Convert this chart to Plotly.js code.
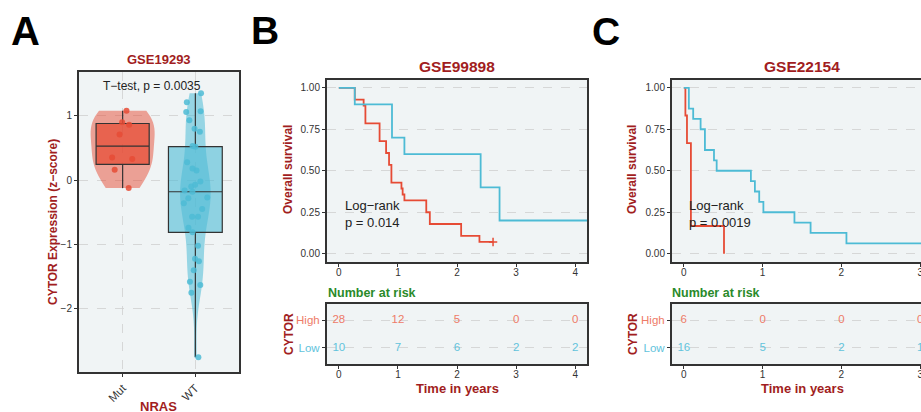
<!DOCTYPE html>
<html><head><meta charset="utf-8">
<script src="https://cdn.plot.ly/plotly-3.0.1.min.js"></script>
<style>html,body{margin:0;padding:0;overflow:hidden;background:#fff}</style>
</head><body><div id="chart" style="width:940px;height:412px"></div>
<script>
// ---------- Panel A data (GSE19293, CYTOR z-score by NRAS status) ----------
const groupsA = ['Mut', 'WT'];
const mutValues = [1.08, 0.90, 0.86, 0.71, 0.33, 0.35, 0.16, -0.12];
const wtValues = [1.35, 1.21, 1.07, 1.06, 0.93, 0.80, 0.75, 0.53, 0.52, 0.28, 0.18, 0.15,
  -0.02, -0.07, -0.10, -0.16, -0.18, -0.27, -0.28, -0.36, -0.45, -0.57, -0.57, -0.74,
  -0.81, -1.02, -1.22, -1.26, -1.40, -1.58, -1.63, -1.75, -2.75];

// ---------- Panel B data (GSE99898) ----------
const bHighTime = [0, 0.27, 0.42, 0.45, 0.69, 0.80, 0.85, 0.89, 1.06, 1.08, 1.11, 1.48, 1.54, 2.07, 2.38, 2.61];
const bHighSurv = [1, 0.929, 0.893, 0.786, 0.679, 0.607, 0.536, 0.429, 0.393, 0.357, 0.321, 0.25, 0.179, 0.107, 0.071, 0.071];
const bHighCensorTime = [2.61];
const bHighCensorSurv = [0.071];
const bLowTime = [0, 0.27, 0.90, 1.11, 2.40, 2.72, 4.6];
const bLowSurv = [1, 0.9, 0.7, 0.6, 0.4, 0.2, 0.2];
const bRiskTimes = [0, 1, 2, 3, 4];
const bRiskHigh = [28, 12, 5, 0, 0];
const bRiskLow = [10, 7, 6, 2, 2];

// ---------- Panel C data (GSE22154) ----------
const cHighTime = [0, 0.02, 0.04, 0.09, 0.51];
const cHighSurv = [1, 0.833, 0.667, 0.167, 0];
const cLowTime = [0, 0.064, 0.119, 0.213, 0.268, 0.383, 0.417, 0.851, 0.902, 0.957, 1.01, 1.404, 1.609, 2.064, 3.6];
const cLowSurv = [1, 0.875, 0.8125, 0.75, 0.625, 0.5625, 0.5, 0.4375, 0.375, 0.3125, 0.25, 0.1875, 0.125, 0.0625, 0.0625];
const cRiskTimes = [0, 1, 2, 3];
const cRiskHigh = [6, 0, 0, 0];
const cRiskLow = [16, 5, 2, 1];

// ---------- styling ----------
const W = 940, H = 412;
const px = v => v / W;
const py = v => 1 - v / H;
const RED = '#E64B35', BLUE = '#4DBBD5';
const RED_T = '#EE7B68', BLUE_T = '#62C3DC';
const DARKRED = '#A11D21', GREEN = '#2A8A2A';
const FONT = 'Liberation Sans, Arial, sans-serif';

const traces = [];
// Panel A
traces.push({type:'violin', x: mutValues.map(() => groupsA[0]), y: mutValues, xaxis:'x', yaxis:'y',
  width:0.88, spanmode:'hard', scalemode:'width', fillcolor:'rgba(230,75,53,0.5)',
  line:{width:0, color:'rgba(0,0,0,0)'}, points:false, box:{visible:false}, hoverinfo:'skip'});
traces.push({type:'violin', x: wtValues.map(() => groupsA[1]), y: wtValues, xaxis:'x', yaxis:'y',
  width:0.42, bandwidth:0.35, spanmode:'hard', scalemode:'width', fillcolor:'rgba(77,187,213,0.55)',
  line:{width:0, color:'rgba(0,0,0,0)'}, points:false, box:{visible:false}, hoverinfo:'skip'});
traces.push({type:'box', x: mutValues.map(() => groupsA[0]), y: mutValues, xaxis:'x', yaxis:'y',
  width:0.73, fillcolor:'rgba(230,75,53,0.72)', line:{color:'#333', width:1.2}, whiskerwidth:0,
  boxpoints:'all', jitter:0.5, pointpos:0, quartilemethod:'linear',
  marker:{color:RED, size:6, opacity:0.85}, hoverinfo:'skip'});
traces.push({type:'box', x: wtValues.map(() => groupsA[1]), y: wtValues, xaxis:'x', yaxis:'y',
  width:0.74, fillcolor:'rgba(77,187,213,0.6)', line:{color:'#333', width:1.2}, whiskerwidth:0,
  boxpoints:'all', jitter:0.5, pointpos:0, quartilemethod:'inclusive',
  marker:{color:BLUE, size:6, opacity:0.85}, hoverinfo:'skip'});

// Survival curves
function kmLine(t, s, color, xa, ya) {
  return {type:'scatter', mode:'lines', x:t, y:s, xaxis:xa, yaxis:ya,
    line:{shape:'hv', color:color, width:1.8}, hoverinfo:'skip'};
}
traces.push(kmLine(bHighTime, bHighSurv, RED, 'x2', 'y2'));
traces.push(kmLine(bLowTime, bLowSurv, BLUE, 'x2', 'y2'));
traces.push({type:'scatter', mode:'markers', x:bHighCensorTime, y:bHighCensorSurv, xaxis:'x2', yaxis:'y2',
  marker:{symbol:'cross-thin', size:6, line:{color:RED, width:1.5}}, hoverinfo:'skip'});
traces.push(kmLine(cHighTime, cHighSurv, RED, 'x4', 'y4'));
traces.push(kmLine(cLowTime, cLowSurv, BLUE, 'x4', 'y4'));

// Risk tables
function riskRow(times, counts, row, color, xa, ya) {
  return {type:'scatter', mode:'text', x:times, y:times.map(() => row), text:counts.map(String),
    xaxis:xa, yaxis:ya, textfont:{family:FONT, size:11.5, color:color}, hoverinfo:'skip'};
}
traces.push(riskRow(bRiskTimes, bRiskHigh, 1, RED_T, 'x3', 'y3'));
traces.push(riskRow(bRiskTimes, bRiskLow, 0, BLUE_T, 'x3', 'y3'));
traces.push(riskRow(cRiskTimes, cRiskHigh, 1, RED_T, 'x5', 'y5'));
traces.push(riskRow(cRiskTimes, cRiskLow, 0, BLUE_T, 'x5', 'y5'));

const baseAxis = {showline:true, mirror:true, linecolor:'#333', linewidth:2, zeroline:false,
  ticks:'outside', ticklen:3, tickcolor:'#333', tickwidth:1,
  tickfont:{family:FONT, size:10, color:'#333'}, gridcolor:'#CFCFCF', griddash:'dash', gridwidth:0.8,
  fixedrange:true};
const ax = o => Object.assign({}, baseAxis, o);

const riskTicks = ['<span style="color:' + BLUE_T + '">Low</span>', '<span style="color:' + RED_T + '">High</span>'];

const layout = {
  width: W, height: H, autosize:false,
  margin:{l:0, r:0, t:0, b:0},
  paper_bgcolor:'#fff', plot_bgcolor:'#F0F4F5',
  showlegend:false, violinmode:'overlay', boxmode:'overlay',
  font:{family:FONT, color:'#333'},
  xaxis: ax({anchor:'y', domain:[px(79), px(239)], type:'category', categoryorder:'array',
    categoryarray:groupsA, range:[-0.6, 1.6], showgrid:true, tickangle:-45,
    tickfont:{family:FONT, size:11.5, color:'#333'}}),
  yaxis: ax({anchor:'x', domain:[py(372), py(72)], range:[-2.98, 1.68], tickvals:[-2, -1, 0, 1], showgrid:true}),
  xaxis2: ax({anchor:'y2', domain:[px(327), px(587)], range:[-0.2, 4.2], dtick:1, tick0:0, showgrid:false, ticklabelstandoff:-3}),
  yaxis2: ax({anchor:'x2', domain:[py(262), py(79.5)], range:[-0.05, 1.05], tickvals:[0, 0.25, 0.5, 0.75, 1], tickformat:'.2f', showgrid:true}),
  xaxis3: ax({anchor:'y3', domain:[px(327), px(587)], range:[-0.2, 4.2], dtick:1, tick0:0, showgrid:false, ticklabelstandoff:-3}),
  yaxis3: ax({anchor:'x3', domain:[py(364), py(304)], range:[-0.6, 1.6], tickvals:[0, 1], ticktext:riskTicks, showgrid:true,
    tickfont:{family:FONT, size:11.5, color:'#333'}}),
  xaxis4: ax({anchor:'y4', domain:[px(672), px(932)], range:[-0.15, 3.15], dtick:1, tick0:0, showgrid:false, ticklabelstandoff:-3}),
  yaxis4: ax({anchor:'x4', domain:[py(262), py(79.5)], range:[-0.05, 1.05], tickvals:[0, 0.25, 0.5, 0.75, 1], tickformat:'.2f', showgrid:true}),
  xaxis5: ax({anchor:'y5', domain:[px(672), px(932)], range:[-0.15, 3.15], dtick:1, tick0:0, showgrid:false, ticklabelstandoff:-3}),
  yaxis5: ax({anchor:'x5', domain:[py(364), py(304)], range:[-0.6, 1.6], tickvals:[0, 1], ticktext:riskTicks, showgrid:true,
    tickfont:{family:FONT, size:11.5, color:'#333'}}),
  annotations: []
};

function note(text, x, y, opts) {
  layout.annotations.push(Object.assign({text:text, x:px(x), y:py(y), xref:'paper', yref:'paper',
    showarrow:false, xanchor:'center', yanchor:'middle',
    font:{family:FONT, size:12, color:'#000'}}, opts || {}));
}
const bold = (size, color) => ({family:FONT, size:size, color:color});

note('<b>A</b>', 25, 31, {font:bold(40, '#000')});
note('<b>B</b>', 265, 31, {font:bold(39, '#000')});
note('<b>C</b>', 606, 32, {font:bold(39, '#000')});

note('<b>GSE19293</b>', 159, 60, {font:bold(13, DARKRED)});
note('<b>GSE99898</b>', 457, 66, {font:bold(15.5, DARKRED)});
note('<b>GSE22154</b>', 802, 66, {font:bold(15.5, DARKRED)});

note('<b>CYTOR Expression (z−score)</b>', 53, 222, {textangle:-90, font:bold(12, DARKRED)});
note('<b>NRAS</b>', 158, 406, {font:bold(13, DARKRED)});
note('T−test, p = 0.0035', 152, 86, {font:{family:FONT, size:12, color:'#222'}});

[288, 632].forEach(x => {
  note('<b>Overall survival</b>', x, 170, {textangle:-90, font:bold(12, DARKRED)});
});
note('Log−rank<br>p = 0.014', 343, 214, {xanchor:'left', align:'left', font:{family:FONT, size:13, color:'#222'}});
note('Log−rank<br>p = 0.0019', 687, 214, {xanchor:'left', align:'left', font:{family:FONT, size:13, color:'#222'}});

[[328, 289, 457], [672, 633, 802]].forEach(([left, cy, cx]) => {
  note('<b>Number at risk</b>', left - 2, 293, {xanchor:'left', font:bold(12.5, GREEN)});
  note('<b>CYTOR</b>', cy, 334, {textangle:-90, font:bold(12, DARKRED)});
  note('<b>Time in years</b>', cx, 388, {font:bold(13, DARKRED)});
});

Plotly.newPlot('chart', traces, layout, {displayModeBar:false, staticPlot:true});
</script></body></html>
